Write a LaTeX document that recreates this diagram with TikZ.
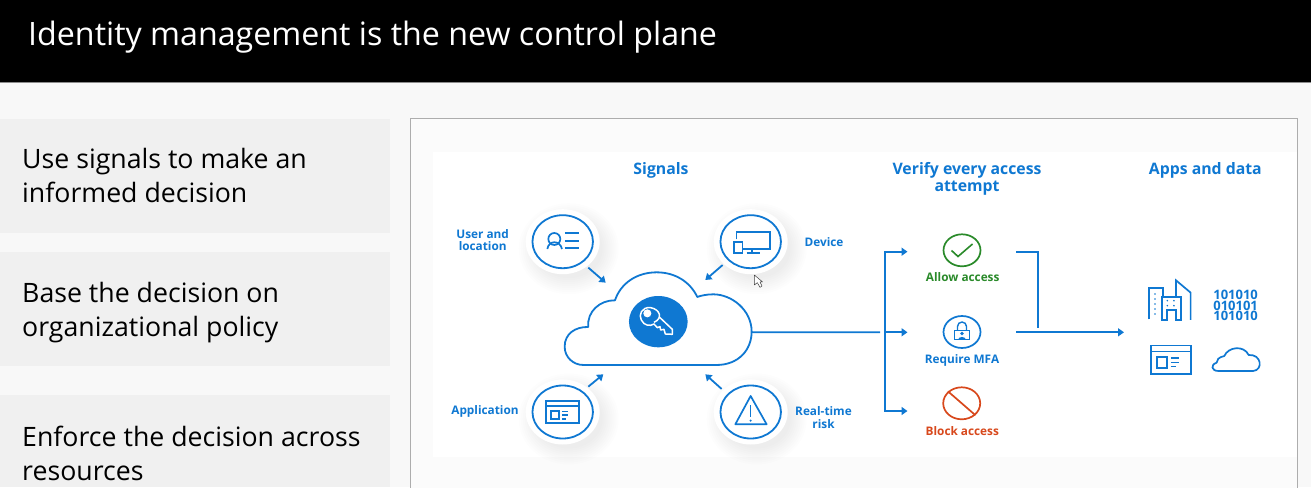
\documentclass[tikz,border=0pt]{standalone}
\usepackage{fontspec}
\setmainfont{Open Sans}
\usetikzlibrary{shapes.geometric,arrows.meta}
\definecolor{msblue}{HTML}{0F78D2}
\definecolor{msgreen}{HTML}{2A8A2A}
\definecolor{msred}{HTML}{D8481C}
\definecolor{pagebg}{HTML}{F8F8F8}
\definecolor{cardbg}{HTML}{F0F0F0}
\newcommand{\softdisk}[3]{%
  \foreach \k in {16,14,...,0}{%
    \fill[black,opacity=.009] (#1+6,#2+7) ellipse [x radius={#3+\k-3},y radius={#3-4.5+\k-3}];}
  \fill[white] (#1,#2) ellipse [x radius=#3,y radius={#3-4.5}];}
\tikzset{
  signal/.style={draw=msblue,line width=1.8pt,ellipse,fill=white,minimum width=60.5pt,minimum height=53pt,inner sep=0pt},
  verdict/.style={draw=#1,line width=1.7pt,ellipse,minimum width=37pt,minimum height=32pt,inner sep=0pt},
  icon/.style={draw=msblue,line width=1.7pt},
  iconzoom/.style={x=0.3333pt,y=-0.3333pt},
  flow/.style={draw=msblue,line width=1.8pt},
  flowarrow/.style={flow,-{Triangle[width=8pt,length=6pt]}},
  headtext/.style={text=msblue,font=\fontsize{15.8}{16.8}\selectfont\bfseries,align=center,inner sep=0pt},
  labeltext/.style={text=msblue,font=\fontsize{11.8}{12.4}\selectfont\bfseries,align=center,inner sep=0pt},
  bintext/.style={text=msblue,inner sep=0pt,font=\fontsize{13}{13}\selectfont\bfseries},
  cardtext/.style={text=black,font=\fontsize{26.7}{33.6}\selectfont,align=left,anchor=base west,inner sep=0pt},
  card/.style={fill=cardbg,draw=none},
}
\begin{document}
\begin{tikzpicture}[x=1pt,y=-1pt]
\useasboundingbox (0,0) rectangle (1311,487);
\fill[pagebg] (0,0) rectangle (1311,487);
\fill[black] (0,0) rectangle (1311,82);
\draw[black!45,line width=.6pt] (0,82.3) -- (1311,82.3);
\node[text=white,anchor=base west,inner sep=0pt,font=\fontsize{32.2}{36}\selectfont] (title) at (28,46) {Identity management is the new control plane};

\fill[card] (0,119) rectangle (390,233);
\fill[card] (0,252) rectangle (390,366);
\fill[card] (0,395) rectangle (390,487);
\node[cardtext] (t1) at (22,168.5) {Use signals to make an};
\node[cardtext] (t1b) at (22,202) {informed decision};
\node[cardtext] (t2) at (22,302) {Base the decision on};
\node[cardtext] (t2b) at (22,336) {organizational policy};
\node[cardtext] (t3) at (22,446) {Enforce the decision across};
\node[cardtext] (t3b) at (22,480) {resources};

\draw[black!32,fill=pagebg!60!white,line width=.7pt] (410.5,118.5) -- (1297.5,118.5) -- (1297.5,490) -- (410.5,490) -- cycle;
\fill[white] (433,152) rectangle (1297,457);

\softdisk{562.7}{241.7}{37}
\softdisk{750.7}{241.7}{37}
\softdisk{562.7}{412}{37}
\softdisk{750.7}{412}{37}

\node[signal] (user) at (562.7,241.7) {};
\node[signal] (device) at (750.7,241.7) {};
\node[signal] (app) at (562.7,412) {};
\node[signal] (risk) at (750.7,412) {};

% cloud
\begin{scope}[shift={(430pt,-150pt)},iconzoom]
\draw[flow,fill=white,line join=round] (460,645) -- (860,645)
  .. controls (925,645) and (965,600) .. (965,545)
  .. controls (965,480) and (905,433) .. (850,433)
  .. controls (830,433) and (812,437) .. (802,441)
  .. controls (780,395) and (735,367) .. (680,367)
  .. controls (620,367) and (572,400) .. (555,451)
  .. controls (510,450) and (470,485) .. (475,531)
  .. controls (435,530) and (404,552) .. (404,590)
  .. controls (404,622) and (430,645) .. (460,645) -- cycle;
\coordinate (cloudout) at (965,547);
\node[ellipse,fill=msblue,minimum width=58.7pt,minimum height=51.3pt,inner sep=0pt] (keydisk) at (685,515) {};
% key
\draw[white,line width=1.5pt,line join=round]
  (672,517) .. controls (700,505) and (690,478) .. (662,473)
  .. controls (635,470) and (625,495) .. (634,510)
  .. controls (642,527) and (660,530) .. (672,522)
  -- (682,533) -- (690,530) -- (692,540) -- (702,538) -- (706,552) -- (727,553) -- (727,538) -- (690,503);
\fill[white] (652,490) circle [radius=4.5pt*.9];
% user icon
\draw[icon] (373,267) circle [radius=18];
\draw[icon] (352,297) .. controls (356,270) and (390,270) .. (396,297);
\draw[icon] (405,250) -- (447,250) (405,273) -- (447,273) (405,295) -- (447,295);
% device icon
\draw[icon] (920,268) -- (920,245) -- (1020,245) -- (1020,297) -- (938,297);
\draw[icon,fill=white] (912,275) rectangle (938,310);
\draw[icon] (967,297) -- (967,308) (950,308) -- (990,308);
% application icon
\draw[icon] (348,753) rectangle (448,820);
\draw[icon] (348,769) -- (448,769);
\draw[icon] (362,783) rectangle (388,808);
\draw[icon] (397,785) -- (415,785) (397,796) -- (415,796) (397,807) -- (409,807);
% risk icon
\draw[icon,line join=round] (962,738) -- (1010,823) -- (916,823) -- cycle;
\draw[icon] (962,766) -- (962,802);
\fill[msblue] (962,812) circle [radius=1.2pt];
% pointer
\draw[black!75,fill=white,line width=.5pt,line join=round] (973,375) -- (973,405) -- (982,398) -- (990,412) -- (996,408) -- (990,396) -- (998,396) -- cycle;
% arrow free ends
\coordinate (ua) at (475,353);\coordinate (ub) at (527,398);
\coordinate (da) at (878,345);\coordinate (db) at (826,390);
\coordinate (aa) at (475,710);\coordinate (ab) at (520,673);
\coordinate (ra) at (875,717);\coordinate (rb) at (826,673);
\end{scope}
\draw[flowarrow] (ua) -- (ub);
\draw[flowarrow] (da) -- (db);
\draw[flowarrow] (aa) -- (ab);
\draw[flowarrow] (ra) -- (rb);

\node[headtext] (hsig) at (661,170.5) {Signals};
\node[headtext] (hver) at (967,178.8) {Verify every access\\attempt};
\node[headtext] (happ) at (1205.3,170.5) {Apps and data};
\node[labeltext] (luser) at (482.7,240) {User and\\location};
\node[labeltext] (ldev) at (824,241.7) {Device};
\node[labeltext] (lapp) at (485,411.5) {Application};
\node[labeltext] (lrisk) at (823.5,417.5) {Real-time\\risk};

% verdicts
\node[verdict=msgreen] (allow) at (962,250.3) {};
\node[verdict=msblue] (mfa) at (962,332) {};
\node[verdict=msred] (block) at (961.7,403.3) {};
\node[labeltext,text=msgreen] (lallow) at (962.7,277.5) {Allow access};
\node[labeltext] (lmfa) at (962,360.5) {Require MFA};
\node[labeltext,text=msred] (lblock) at (962.3,431) {Block access};
\draw[msgreen,line width=1.6pt,line join=miter] (951.5,250.5) -- (958,256.5) -- (972.5,244);
\draw[msred,line width=1.7pt] (block.north west) -- (block.south east);
\draw[msblue,line width=1.4pt] (954.5,330.5) rectangle (969.5,339.5);
\draw[msblue,line width=1.4pt] (957.5,330.5) -- (957.5,326.5) arc [start angle=180,end angle=360,radius=4.5] -- (966.5,330.5);
\fill[msblue] (962,333.5) circle [radius=1.9];
\fill[msblue] (958,339.5) .. controls (958,335.5) and (966,335.5) .. (966,339.5) -- cycle;

% flow lines
\coordinate (busin) at (880,332.3);
\coordinate (bustop) at (885.3,251.7);
\coordinate (busmid) at (885.3,332.3);
\coordinate (busbot) at (885.3,411);
\coordinate (arrtop) at (907.5,251.7);
\coordinate (arrmid) at (907.5,332.3);
\coordinate (arrbot) at (907.5,411);
\draw[flow] (cloudout) -- (busin);
\draw[flowarrow] (busmid) -- (arrmid);
\draw[flowarrow] (bustop) -- (arrtop);
\draw[flow,line cap=rect] (bustop) -- (busbot);
\draw[flowarrow] (busbot) -- (arrbot);
\coordinate (bracka) at (1016,251.7);
\coordinate (brackb) at (1038,251.7);
\coordinate (brackc) at (1038,327.7);
\draw[flow] (bracka) -- (brackb) -- (brackc);
\coordinate (outa) at (1016,332.3);
\coordinate (outb) at (1124,332.3);
\draw[flowarrow] (outa) -- (outb);

% apps and data
\begin{scope}[shift={(870pt,-150pt)},iconzoom]
\draw[icon,line join=miter] (838,508) -- (838,415) -- (878,415) -- (878,440);
\draw[icon] (875,440) -- (932,440) -- (932,511) -- (917,511) -- (917,480) -- (890,480) -- (890,511) -- (875,511) -- cycle;
\draw[icon] (918,440) -- (918,391) -- (962,428) -- (962,510);
\foreach \yy in {432,447,462,477,492}{\fill[msblue] (855,\yy) circle [radius=.9pt];}
\foreach \yy in {452,467}{\fill[msblue] (892,\yy) circle [radius=.9pt];\fill[msblue] (912,\yy) circle [radius=.9pt];}
\draw[icon] (842,587) rectangle (964,672);
\draw[icon] (842,605) -- (964,605);
\draw[icon] (860,622) rectangle (890,655);
\draw[icon] (903,625) -- (927,625) (903,638) -- (927,638) (903,650) -- (919,650);
\draw[icon,line join=round] (1045,663) -- (1150,663)
  .. controls (1180,660) and (1175,612) .. (1136,615)
  .. controls (1122,585) and (1075,590) .. (1063,618)
  .. controls (1045,622) and (1040,630) .. (1040,638)
  .. controls (1020,645) and (1025,663) .. (1045,663) -- cycle;
\node[bintext] (bin1) at (1097,435) {101010};
\node[bintext] (bin2) at (1097,467) {010101};
\node[bintext] (bin3) at (1097,499) {101010};
\end{scope}
\end{tikzpicture}
\end{document}
